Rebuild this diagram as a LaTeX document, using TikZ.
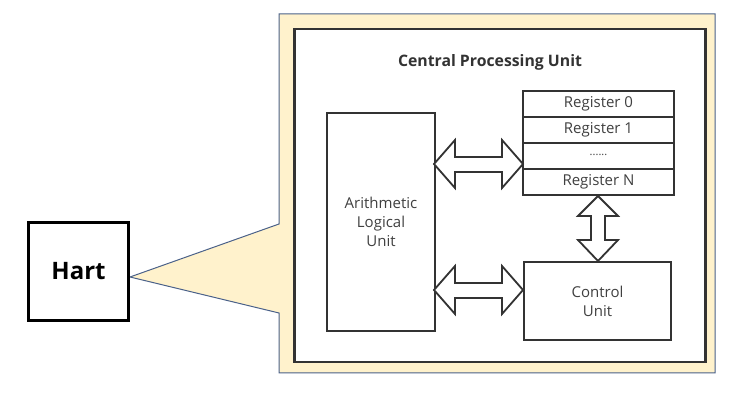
\documentclass[tikz,border=0pt]{standalone}
\usepackage{fontspec}
\setmainfont{Open Sans}
\usetikzlibrary{calc}
\definecolor{callfill}{HTML}{FFF2CC}
\definecolor{callline}{HTML}{4A6189}
\definecolor{boxline}{HTML}{333333}
\definecolor{txt}{HTML}{404040}
\tikzset{
  unitbox/.style={draw=boxline,line width=2pt,fill=white,inner sep=0pt,anchor=north west},
  regbox/.style={draw=boxline,line width=2pt,fill=white,minimum width=151pt,minimum height=26pt,inner sep=0pt,font=\fontsize{15}{17}\selectfont,text=txt},
  unittext/.style={align=center,font=\fontsize{15}{19}\selectfont,text=txt},
  fatarrow/.style={draw=boxline,line width=1.8pt,fill=white,line join=miter},
}
\begin{document}
\begin{tikzpicture}[x=1pt,y=-1pt]
\useasboundingbox (0,0) rectangle (742,403);
% callout
\draw[callline,line width=1pt,fill=callfill]
  (279,14) -- (715,14) -- (715,373) -- (279,373) -- (279,313) -- (130,277) -- (279,224) -- cycle;
% hart
\node[draw=black,line width=3pt,minimum width=100pt,minimum height=98pt,inner sep=0pt,font=\bfseries\fontsize{24}{27}\selectfont] (hart) at (78.5,271.5) {Hart};
% inner cpu box
\node[unitbox,line width=2.5pt,minimum width=411pt,minimum height=333pt] (cpu) at (293,28) {};
\node[font=\bfseries\fontsize{15.8}{18}\selectfont,text=boxline] (title) at (490,62) {Central Processing Unit};
% ALU
\node[unitbox,minimum width=108pt,minimum height=218pt] (alu) at (326,112) {};
\node[unittext] (alutext) at (alu.center) {Arithmetic\\Logical\\Unit};
% registers
\node[regbox] (r0) at (598.5,104) {Register 0};
\node[regbox] (r1) at (598.5,130) {Register 1};
\node[regbox] (rd) at (598.5,156) {\raisebox{2pt}{\fontsize{11}{12}\selectfont ......}};
\node[regbox] (rn) at (598.5,182) {Register N};
% control
\node[unitbox,minimum width=147pt,minimum height=78pt] (cu) at (523,261) {};
\node[unittext] (cutext) at (cu.center) {Control\\Unit};
% arrows
\draw[fatarrow] (434,164) -- (455,140) -- (455,157) -- (502,157) -- (502,140) -- (523,164)
  -- (502,188) -- (502,172) -- (455,172) -- (455,188) -- cycle;
\draw[fatarrow] (434,290) -- (455,266) -- (455,283) -- (502,283) -- (502,266) -- (523,290)
  -- (502,314) -- (502,298) -- (455,298) -- (455,314) -- cycle;
\draw[fatarrow] (598,196) -- (618,216) -- (605,216) -- (605,240) -- (618,240) -- (598,261)
  -- (578,240) -- (591,240) -- (591,216) -- (578,216) -- cycle;
\end{tikzpicture}
\end{document}
